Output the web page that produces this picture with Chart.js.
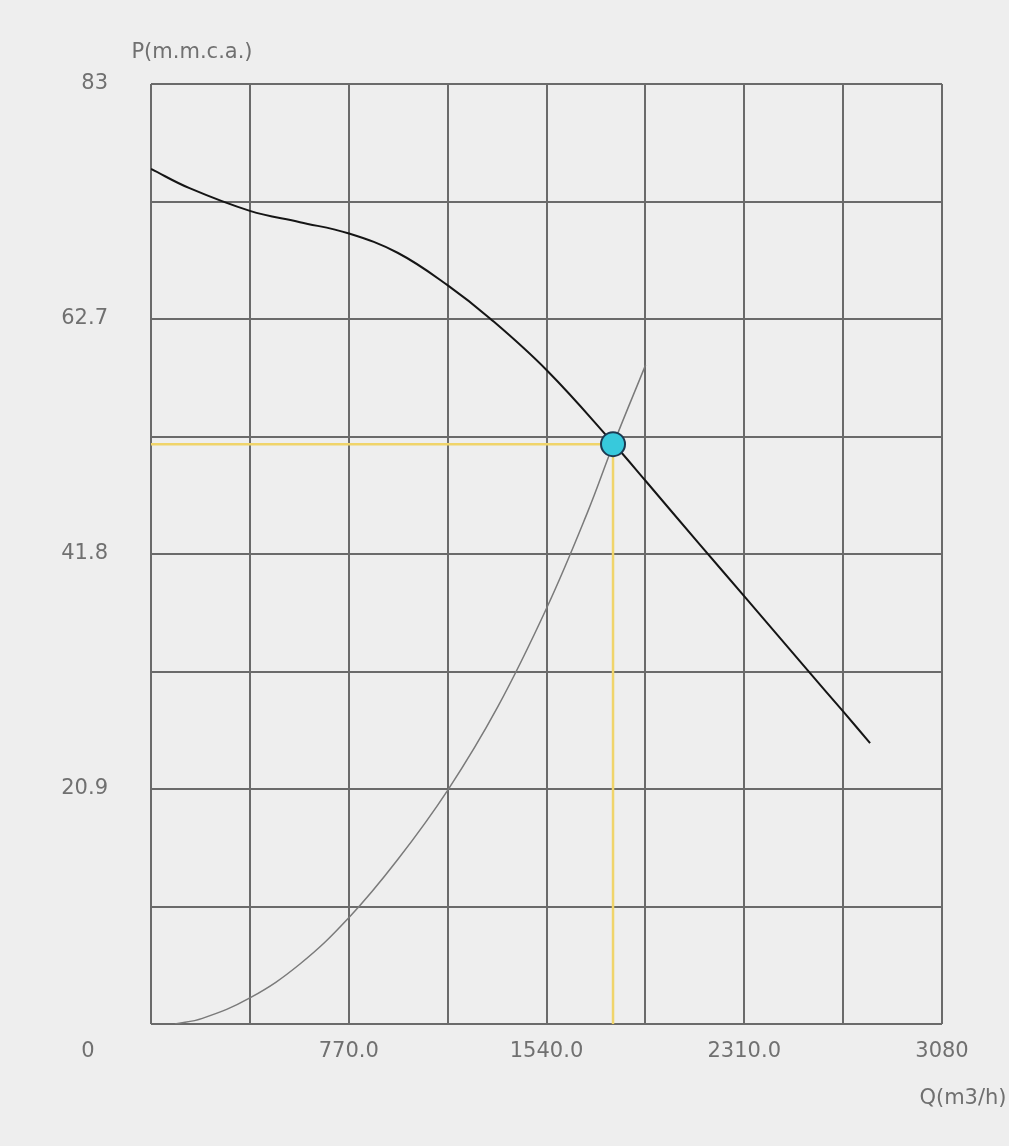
<!DOCTYPE html>
<html>
<head>
<meta charset="utf-8">
<title>Curva de la bomba</title>
<script src="https://cdn.jsdelivr.net/npm/chart.js@4/dist/chart.umd.min.js"></script>
<style>
  html, body { margin: 0; padding: 0; background: #eeeeee; }
  canvas { display: block; }
</style>
</head>
<body>
<canvas id="chart" width="1009" height="1146"></canvas>
<script>
// Pump head curve: flow Q (m3/h) and head P (m.m.c.a.)
const pumpFlow = [0, 150, 385, 580, 771, 960, 1157, 1320, 1542, 1799, 1928, 2138, 2313, 2558, 2695, 2800];
const pumpHead = [75.5, 73.8, 71.8, 70.8, 69.8, 68.1, 65.2, 62.3, 57.7, 51.3, 47.9, 42.3, 37.7, 31.2, 27.6, 24.8];

// System resistance curve
const systemFlow = [93, 200, 385, 580, 771, 960, 1157, 1350, 1542, 1700, 1799, 1926];
const systemHead = [0, 0.5, 2.3, 5.3, 9.4, 14.5, 20.7, 28.0, 36.8, 45.2, 51.1, 58.2];

// Operating point (intersection of both curves)
const dutyFlow = [1799];
const dutyHead = [51.2];

// Axis grid values and their printed labels
const xGridValues = [0, 385, 770, 1155, 1540, 1925, 2310, 2695, 3080];
const xTickLabels = ['', '', '770.0', '', '1540.0', '', '2310.0', '', '3080'];
const yGridValues = [0, 10.375, 20.75, 31.125, 41.5, 51.875, 62.25, 72.625, 83];
const yTickLabels = ['0', '', '20.9', '', '41.8', '', '62.7', '', '83'];

const yAxisTitle = 'P(m.m.c.a.)';
const xAxisTitle = 'Q(m3/h)';

const textColor = '#707070';
const gridColor = '#6a6a6a';
const fontFamily = '"DejaVu Sans", sans-serif';
const fontSize = 21;

const toPoints = (xs, ys) => xs.map((x, i) => ({ x: x, y: ys[i] }));

// Guide lines from the y axis to the operating point and down to the x axis
const guidePoints = [
  { x: 0, y: dutyHead[0] },
  { x: dutyFlow[0], y: dutyHead[0] },
  { x: dutyFlow[0], y: 0 }
];

const axisTitles = {
  id: 'axisTitles',
  afterDraw(chart) {
    const { ctx, chartArea } = chart;
    ctx.save();
    ctx.fillStyle = textColor;
    ctx.font = fontSize + 'px ' + fontFamily;
    ctx.textAlign = 'center';
    ctx.textBaseline = 'middle';
    ctx.fillText(yAxisTitle, chartArea.left + 41, chartArea.top - 31);
    ctx.fillText(xAxisTitle, chartArea.right + 21, chartArea.bottom + 75);
    ctx.restore();
  }
};

new Chart(document.getElementById('chart'), {
  type: 'line',
  data: {
    datasets: [
      {
        label: 'Punto de trabajo',
        data: toPoints(dutyFlow, dutyHead),
        showLine: false,
        pointRadius: 12,
        pointBackgroundColor: '#37c9dc',
        pointBorderColor: '#1c3a52',
        pointBorderWidth: 2
      },
      {
        label: 'Bomba',
        data: toPoints(pumpFlow, pumpHead),
        borderColor: '#151515',
        borderWidth: 2,
        pointRadius: 0,
        tension: 0.4
      },
      {
        label: 'Sistema',
        data: toPoints(systemFlow, systemHead),
        borderColor: '#7a7a7a',
        borderWidth: 1.5,
        pointRadius: 0,
        tension: 0.4
      },
      {
        label: 'Guía',
        data: guidePoints,
        borderColor: '#f0d46a',
        borderWidth: 2.5,
        pointRadius: 0,
        tension: 0
      }
    ]
  },
  options: {
    responsive: false,
    animation: false,
    events: [],
    layout: { padding: { top: 84, right: 67, bottom: 72, left: 0 } },
    plugins: {
      legend: { display: false },
      tooltip: { enabled: false },
      title: { display: false }
    },
    scales: {
      x: {
        type: 'linear',
        min: 0,
        max: 3080,
        afterBuildTicks: (scale) => { scale.ticks = xGridValues.map(v => ({ value: v })); },
        afterFit: (scale) => { scale.height = 50; },
        border: { display: false },
        grid: { color: gridColor, lineWidth: 2, drawTicks: false },
        ticks: {
          autoSkip: false,
          maxRotation: 0,
          padding: 14,
          color: textColor,
          font: { family: fontFamily, size: fontSize, lineHeight: 1.333 },
          callback: (value, index) => xTickLabels[index]
        }
      },
      y: {
        type: 'linear',
        min: 0,
        max: 83,
        afterBuildTicks: (scale) => { scale.ticks = yGridValues.map(v => ({ value: v })); },
        afterFit: (scale) => { scale.width = 151; },
        border: { display: false },
        grid: { color: gridColor, lineWidth: 2, drawTicks: false },
        ticks: {
          autoSkip: false,
          crossAlign: 'near',
          padding: 43,
          color: textColor,
          font: { family: fontFamily, size: fontSize, lineHeight: 1.333 },
          // the origin label sits below the corner, in the row of the flow labels
          callback: (value, index) => index === 0 ? ['', '', yTickLabels[index] + '  '] : yTickLabels[index]
        }
      }
    }
  },
  plugins: [axisTitles]
});
</script>
</body>
</html>
